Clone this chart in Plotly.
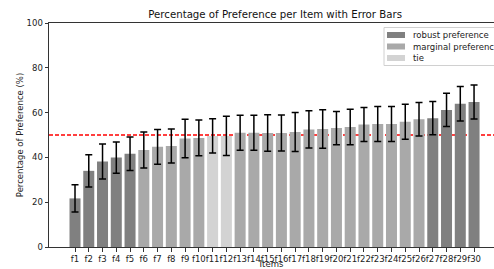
import plotly.graph_objects as go

items = [f"f{i}" for i in range(1, 31)]
values = [21.7, 34.0, 38.2, 39.9, 41.6, 43.3, 44.7, 45.1, 48.4, 48.7,
          49.6, 49.6, 51.0, 51.0, 50.9, 50.9, 51.3, 52.5, 52.7, 53.1,
          53.6, 54.7, 54.9, 54.9, 55.9, 57.0, 57.5, 61.2, 64.0, 64.7]
errors = [6.1, 7.2, 7.8, 7.0, 7.5, 8.0, 7.8, 7.6, 8.6, 8.0,
          7.6, 8.8, 7.8, 7.8, 8.1, 8.0, 8.7, 8.3, 8.6, 7.4,
          7.9, 7.6, 7.8, 7.8, 7.8, 7.5, 7.4, 7.4, 7.7, 7.6]
groups = (["robust preference"] * 5 + ["marginal preference"] * 5 + ["tie"] * 2
          + ["marginal preference"] * 14 + ["robust preference"] * 4)
group_order = ["robust preference", "marginal preference", "tie"]
group_colors = {"robust preference": "#808080",
                "marginal preference": "#a9a9a9",
                "tie": "#d3d3d3"}

FONT = "DejaVu Sans"
W, H = 494, 269
ML, MT, MB = 49, 23, 22
PW, PH = W - ML, H - MT - MB

def px_x(p):
    return (p - ML) / PW

def px_y(p):
    return (H - MB - p) / PH

fig = go.Figure()
for g in group_order:
    idx = [i for i, gg in enumerate(groups) if gg == g]
    fig.add_trace(go.Bar(
        x=idx, y=[values[i] for i in idx], name=g, width=0.8,
        marker=dict(color=group_colors[g], line=dict(width=0)),
        error_y=dict(type="data", array=[errors[i] for i in idx],
                     color="black", thickness=1.5, width=3.5),
        showlegend=False,
    ))

fig.add_shape(type="line", xref="paper", x0=0, x1=1, yref="y", y0=50, y1=50,
              line=dict(color="red", width=1.3, dash="4px,2px"), layer="below")

# legend box drawn manually (upper right, cropped by the figure edge)
fig.add_shape(type="rect", xref="paper", yref="paper",
              x0=px_x(384), x1=px_x(505), y0=px_y(65.5), y1=px_y(27.5),
              line=dict(color="#d0d0d0", width=1),
              fillcolor="rgba(255,255,255,0.8)", layer="above")
for k, g in enumerate(group_order):
    cy = 35 + k * 11.5
    fig.add_shape(type="rect", xref="paper", yref="paper",
                  x0=px_x(387), x1=px_x(405),
                  y0=px_y(cy + 3), y1=px_y(cy - 3),
                  line=dict(width=0), fillcolor=group_colors[g], layer="above")
    fig.add_annotation(text=g, xref="paper", yref="paper",
                       x=px_x(410.5), y=px_y(cy), xanchor="left",
                       yanchor="middle", showarrow=False,
                       font=dict(family=FONT, size=8.5, color="#222"))

fig.update_layout(
    width=W, height=H,
    margin=dict(l=ML, r=0, t=MT, b=MB),
    plot_bgcolor="white", paper_bgcolor="white",
    barmode="overlay",
    font=dict(family=FONT, size=8.5, color="#222"),
    title=dict(text="Percentage of Preference per Item with Error Bars",
               x=0.557, xref="container", xanchor="center",
               y=1 - 14 / H, yref="container", yanchor="middle",
               font=dict(family=FONT, size=10.2, color="#111")),
    showlegend=False,
)
fig.update_xaxes(
    range=[-1.89, 30.45], tickmode="array", tickvals=list(range(30)),
    ticktext=items, tickangle=0, showgrid=False, zeroline=False,
    showline=True, linecolor="#333", linewidth=1, mirror=True,
    ticks="outside", ticklen=3.5, tickcolor="#333",
    tickfont=dict(family=FONT, size=8.5, color="#222"),
    title=dict(text="Items", standoff=8, font=dict(family=FONT, size=8.5)),
    automargin=False,
)
fig.update_yaxes(
    range=[0, 100], tickvals=[0, 20, 40, 60, 80, 100], showgrid=False,
    zeroline=False, showline=True, linecolor="#333", linewidth=1,
    ticks="outside", ticklen=3.5, tickcolor="#333",
    tickfont=dict(family=FONT, size=8.5, color="#222"),
    title=dict(text="Percentage of Preference (%)", standoff=1,
               font=dict(family=FONT, size=8.5)),
    automargin=False,
)

fig.write_html(
    "out.html",
    config={"displayModeBar": False},
    post_script="document.body.style.margin='0';document.body.style.overflow='hidden';",
)
